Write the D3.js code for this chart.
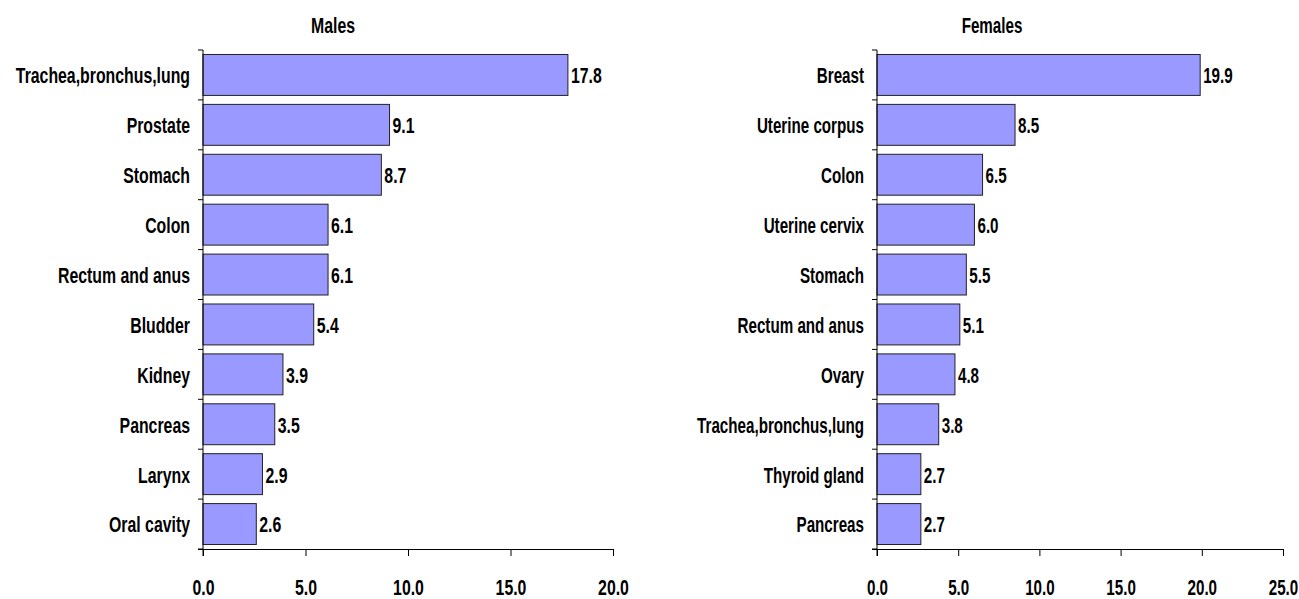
<!DOCTYPE html>
<html>
<head>
<meta charset="utf-8">
<script src="https://cdn.jsdelivr.net/npm/d3@7"></script>
<style>
  body { margin: 0; background: #fff; }
  text { font-family: "Liberation Sans", Arial, sans-serif; font-weight: bold; font-size: 22px; fill: #000; }
</style>
</head>
<body>
<div id="chart"></div>
<script>
// Data
const maleSites = ['Trachea,bronchus,lung', 'Prostate', 'Stomach', 'Colon', 'Rectum and anus',
    'Bludder', 'Kidney', 'Pancreas', 'Larynx', 'Oral cavity'];
const maleValues = [17.8, 9.1, 8.7, 6.1, 6.1, 5.4, 3.9, 3.5, 2.9, 2.6];

const femaleSites = ['Breast', 'Uterine corpus', 'Colon', 'Uterine cervix', 'Stomach',
    'Rectum and anus', 'Ovary', 'Trachea,bronchus,lung', 'Thyroid gland', 'Pancreas'];
const femaleValues = [19.9, 8.5, 6.5, 6.0, 5.5, 5.1, 4.8, 3.8, 2.7, 2.7];

const maleTicks = [0, 5, 10, 15, 20];
const femaleTicks = [0, 5, 10, 15, 20, 25];

const width = 1299, height = 599;

const svg = d3.select('#chart')
    .append('svg')
    .attr('width', width)
    .attr('height', height);

// one panel = title + horizontal bars + axes
function drawPanel(opts) {
    const g = svg.append('g');
    const k = opts.squeeze;  // the original uses a narrow bold face

    const x = d3.scaleLinear()
        .domain([0, opts.ticks[opts.ticks.length - 1]])
        .range([opts.x0, opts.x1]);

    const y = d3.scaleBand()
        .domain(opts.sites)
        .range([opts.y0, opts.y1])
        .paddingInner(0.18)
        .paddingOuter(0.09);

    const rows = opts.sites.map((s, i) => ({ site: s, value: opts.values[i] }));

    // bars
    g.selectAll('rect.bar')
        .data(rows)
        .enter()
        .append('rect')
        .attr('class', 'bar')
        .attr('x', x(0))
        .attr('y', d => y(d.site))
        .attr('width', d => x(d.value) - x(0))
        .attr('height', y.bandwidth())
        .attr('fill', '#9999ff')
        .attr('stroke', '#222')
        .attr('stroke-width', 1);

    // value labels
    g.selectAll('text.val')
        .data(rows)
        .enter()
        .append('text')
        .attr('class', 'val')
        .attr('transform', d => `translate(${x(d.value) + 3},${y(d.site) + y.bandwidth() / 2}) scale(${k},1)`)
        .attr('dy', '0.38em')
        .text(d => d.value.toFixed(1));

    // category labels
    g.selectAll('text.cat')
        .data(rows)
        .enter()
        .append('text')
        .attr('class', 'cat')
        .attr('text-anchor', 'end')
        .attr('transform', d => `translate(${opts.x0 - 13},${y(d.site) + y.bandwidth() / 2}) scale(${k},1)`)
        .attr('dy', '0.38em')
        .text(d => d.site);

    // y axis line with ticks between categories
    const step = (opts.y1 - opts.y0) / opts.sites.length;
    const axisG = g.append('g').attr('stroke', '#000').attr('stroke-width', 1);
    axisG.append('line')
        .attr('x1', x(0)).attr('x2', x(0))
        .attr('y1', opts.y0).attr('y2', opts.y1 + 7);
    axisG.selectAll('line.ytick')
        .data(d3.range(opts.sites.length + 1))
        .enter()
        .append('line')
        .attr('class', 'ytick')
        .attr('x1', x(0) - 5).attr('x2', x(0))
        .attr('y1', i => opts.y0 + i * step)
        .attr('y2', i => opts.y0 + i * step);

    // x axis
    const xAxis = d3.axisBottom(x)
        .tickValues(opts.ticks)
        .tickSize(7)
        .tickSizeOuter(0)
        .tickFormat(d3.format('.1f'));
    const xg = g.append('g')
        .attr('transform', `translate(0,${opts.y1})`)
        .call(xAxis);
    xg.select('.domain').attr('d', `M${x(0) - 5},0.5H${opts.x1}`).attr('stroke', '#000');
    xg.selectAll('.tick line').attr('stroke', '#000');
    xg.selectAll('.tick text')
        .attr('y', null)
        .attr('dy', null)
        .attr('transform', `translate(0,46) scale(${k},1)`)
        .style('font-size', '22px')
        .style('font-family', '"Liberation Sans", Arial, sans-serif');

    // title
    g.append('text')
        .attr('text-anchor', 'middle')
        .attr('transform', `translate(${opts.titleX},33) scale(${k},1)`)
        .text(opts.title);
}

drawPanel({
    title: 'Males', titleX: 333, squeeze: 0.72,
    sites: maleSites, values: maleValues, ticks: maleTicks,
    x0: 203, x1: 613, y0: 50, y1: 549
});

drawPanel({
    title: 'Females', titleX: 992, squeeze: 0.69,
    sites: femaleSites, values: femaleValues, ticks: femaleTicks,
    x0: 877, x1: 1283, y0: 50, y1: 549
});
</script>
</body>
</html>
